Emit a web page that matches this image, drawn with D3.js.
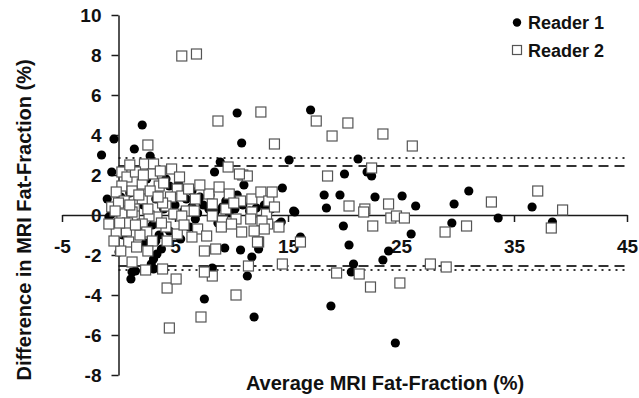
<!DOCTYPE html>
<html>
<head>
<meta charset="utf-8">
<script src="https://cdn.jsdelivr.net/npm/d3@7"></script>
<style>
  body { margin: 0; background: #fff; }
  svg { display: block; font-family: "Liberation Sans", Arial, sans-serif; }
</style>
</head>
<body>
<div id="chart"></div>
<script>
// Bland-Altman style difference plot, two readers
const xTicks = [-5, 5, 15, 25, 35, 45];
const yTicks = [-8, -6, -4, -2, 0, 2, 4, 6, 8, 10];
const seriesNames = ['Reader 1', 'Reader 2'];

// limits of agreement [reader 1 dashed, reader 2 dotted]
const upperLimits = [2.45, 2.85];
const lowerLimits = [-2.55, -2.75];

// [average, difference]
const reader1 = [
  [-1.5, 3.0], [-0.4, 3.8], [2.1, 4.5], [1.4, 3.3], [2.8, 2.95], [-0.6, 2.15],
  [10.5, 5.1], [10.9, 3.6], [17.0, 5.25], [15.1, 2.75], [21.2, 2.8], [9.0, 2.65],
  [8.5, 2.15], [20.0, 2.05], [22.0, 2.15], [22.4, 1.95], [11.1, 1.5], [14.5, 1.35],
  [18.2, 1.0], [19.6, 1.0], [22.7, 0.9], [25.1, 0.95], [18.4, 0.35], [26.3, 0.45],
  [15.6, 0.15], [29.7, 0.55], [31.0, 1.2], [29.5, -0.4], [19.9, -0.55], [20.4, -1.5],
  [25.9, -0.95], [23.9, -1.8], [23.4, -2.25], [16.1, -1.1], [20.8, -2.45], [20.6, -2.85],
  [18.8, -4.55], [24.5, -6.4], [12.0, -5.1], [11.4, -3.05], [7.6, -4.2], [10.8, -1.75],
  [11.8, -2.1], [9.4, -1.65], [8.3, -2.65], [14.4, -0.35], [33.6, -0.15], [36.6, 0.4],
  [38.4, -0.35], [4.5, 1.45], [6.5, 1.2], [-1.0, 0.8], [3.3, 0.8], [-0.85, -0.1],
  [-0.65, 0.05], [3.8, -1.7], [3.4, -1.95], [3.1, -2.2], [2.9, -2.45], [0.05, -1.85],
  [1.5, -2.8], [1.1, -3.2], [3.3, -1.3], [12.4, -1.7], [11.5, -2.55], [14.2, -0.45],
  [15.5, 0.2], [1.2, -2.85], [3.1, -2.7],
  [4.0, 0.3], [5.0, 0.5], [5.8, 0.2], [6.5, 0.4], [7.0, 0.1], [7.5, 0.5], [8.0, 0.3],
  [8.6, 0.2], [9.2, 0.4], [9.8, 0.1], [10.3, 0.3], [11.0, 0.5], [11.6, 0.2], [12.2, 0.35],
  [12.9, 0.5], [13.5, 0.3], [6.0, 0.8], [7.2, 0.9], [8.1, 1.0], [9.5, 0.7], [10.5, 1.0],
  [3.0, -0.5], [4.5, -0.8], [5.5, -1.2], [6.3, -0.6], [2.2, 0.5], [1.0, -0.3], [0.2, 0.9],
  [5.3, 1.6], [2.5, 1.8], [1.0, 1.1], [4.2, 1.8], [3.6, -1.0], [2.4, -1.4], [4.8, 0.0],
  [6.8, -0.2], [8.8, -0.4], [0.4, -1.0]
];

const reader2 = [
  [5.6, 7.95], [6.9, 8.05], [8.8, 4.7], [12.6, 5.15], [13.8, 3.55], [17.5, 4.7],
  [18.9, 3.95], [20.3, 4.6], [23.4, 4.05], [26.0, 3.45], [9.7, 2.4], [11.0, 2.0],
  [11.4, 1.95], [18.5, 1.95], [22.4, 2.35], [2.6, 3.5], [20.4, 0.45], [21.8, 0.3],
  [21.7, 0.15], [23.9, 0.55], [24.1, -0.15], [24.6, -0.05], [25.3, -0.15], [22.5, -0.55],
  [28.9, -0.85], [30.8, -0.55], [16.1, -1.35], [19.3, -2.9], [21.3, -2.95], [22.3, -3.6],
  [24.9, -3.4], [27.6, -2.45], [29.0, -2.6], [14.5, -2.45], [10.4, -4.0], [7.3, -5.1],
  [12.4, -1.35], [11.5, -2.55], [8.3, -3.05], [7.6, -2.85], [33.0, 0.65], [37.1, 1.2],
  [39.3, 0.25], [38.3, -0.65], [4.5, -5.65], [4.3, -3.65], [5.1, -3.2], [3.9, -2.7],
  [2.4, -2.75], [13.2, -0.45],
  [2.3, 2.55], [3.1, 2.55], [4.7, 2.3], [5.4, 1.9], [0.3, 2.15], [0.75, 1.9], [1.5, 2.15],
  [3.0, 2.05], [2.1, 1.55], [0.3, 1.45], [1.2, 1.2], [3.6, 1.45], [5.2, 1.3], [-0.2, 1.15],
  [0.5, 0.7], [2.1, 0.8], [4.6, 0.9], [5.6, 0.95], [-0.6, 0.4], [1.4, 0.3], [4.2, 0.45],
  [3.4, -0.1], [2.7, -0.05], [1.4, -0.05], [0.5, -0.05], [4.9, 0.05], [6.0, 0.2], [6.2, 1.3],
  [0.3, 0.05], [1.2, 0.15], [2.1, -0.45], [-0.2, -0.85], [0.7, -0.8], [2.5, -0.85],
  [0.9, -1.35], [1.6, -1.6], [0.2, -1.8], [4.2, -0.6], [5.2, -0.95], [5.6, -0.05],
  [4.3, -1.3], [1.2, -2.35], [-0.85, -0.45], [-0.4, -1.3], [8.0, 1.05], [8.9, 1.4],
  [9.8, 1.05], [8.3, 0.55], [10.8, 0.7], [11.8, 0.8], [12.6, 1.15], [13.3, 0.7], [13.6, 1.15],
  [6.7, 0.2], [11.8, 0.15], [13.1, 0.05], [8.3, -0.05], [9.2, -0.3], [10.4, -0.2],
  [11.7, -0.2], [12.7, -0.3], [10.7, 2.05], [7.0, -0.7], [7.8, -1.05], [9.1, -0.6],
  [10.0, -0.45], [10.9, -0.85], [12.9, -0.7], [14.2, -0.6], [7.6, -1.8], [8.6, -1.7],
  [12.3, -1.35], [1.8, 1.0], [2.8, 1.2], [3.9, 0.6], [0.0, 0.6], [1.0, 0.5], [2.6, 0.3],
  [3.5, 0.9], [0.8, -0.4], [1.9, -1.0], [3.0, -1.3], [0.1, -0.4], [1.5, -0.5], [3.8, -0.4],
  [5.8, -0.5], [6.5, -1.1], [2.6, -1.8], [-0.3, 0.2], [2.2, 2.0], [3.7, 2.2], [1.0, 2.5],
  [4.0, 1.6], [6.8, 0.8], [7.2, 1.5], [9.5, 0.3], [10.2, 0.6], [12.0, -0.8], [13.8, 0.4]
];

const width = 639, height = 398;
const svg = d3.select('#chart').append('svg')
    .attr('width', width)
    .attr('height', height);

const x = d3.scaleLinear().domain([-5, 45]).range([62, 627]);
const y = d3.scaleLinear().domain([-8, 10]).range([375, 15]);

const axisColor = '#1a1a1a';
const fontFamily = '"Liberation Sans", Arial, sans-serif';

// limit lines
const limitLines = [
  {v: upperLimits[0], dash: '10,6', w: 1.8},
  {v: upperLimits[1], dash: '2,5', w: 2.2},
  {v: lowerLimits[0], dash: '10,6', w: 1.8},
  {v: lowerLimits[1], dash: '2,5', w: 2.2}
];
svg.append('g')
    .selectAll('line')
    .data(limitLines)
    .enter()
    .append('line')
    .attr('x1', x(0))
    .attr('x2', x(45))
    .attr('y1', d => y(d.v))
    .attr('y2', d => y(d.v))
    .attr('stroke', '#333')
    .attr('stroke-width', d => d.w)
    .attr('stroke-dasharray', d => d.dash);

function styleAxis(g) {
  g.select('.domain').attr('stroke', axisColor).attr('stroke-width', 1.5);
  g.selectAll('.tick line').attr('stroke', axisColor).attr('stroke-width', 1.5);
  g.selectAll('.tick text')
      .attr('font-size', '19px')
      .attr('font-weight', 'bold')
      .attr('font-family', fontFamily)
      .attr('fill', '#111');
}

// y axis at x = 0
const yAxis = d3.axisLeft(y)
    .tickValues(yTicks)
    .tickFormat(d => String(d))
    .tickSize(7)
    .tickSizeOuter(0)
    .tickPadding(10);
svg.append('g')
    .attr('transform', 'translate(' + x(0) + ',0)')
    .call(yAxis)
    .call(styleAxis);

// x axis at y = 0
const xAxis = d3.axisBottom(x)
    .tickValues(xTicks)
    .tickFormat(d => String(d))
    .tickSize(7)
    .tickSizeOuter(0)
    .tickPadding(18);
svg.append('g')
    .attr('transform', 'translate(0,' + y(0) + ')')
    .call(xAxis)
    .call(styleAxis);

// reader 1: filled circles
svg.append('g')
    .selectAll('circle')
    .data(reader1)
    .enter()
    .append('circle')
    .attr('cx', d => x(d[0]))
    .attr('cy', d => y(d[1]))
    .attr('r', 4.6)
    .attr('fill', '#000');

// reader 2: open squares
const sq = 10;
svg.append('g')
    .selectAll('rect')
    .data(reader2)
    .enter()
    .append('rect')
    .attr('x', d => x(d[0]) - sq / 2)
    .attr('y', d => y(d[1]) - sq / 2)
    .attr('width', sq)
    .attr('height', sq)
    .attr('fill', '#fff')
    .attr('stroke', '#555')
    .attr('stroke-width', 1.2);

// axis titles
svg.append('text')
    .attr('x', 385)
    .attr('y', 390)
    .attr('text-anchor', 'middle')
    .attr('font-size', '20px')
    .attr('font-weight', 'bold')
    .attr('fill', '#111')
    .text('Average MRI Fat-Fraction (%)');

svg.append('text')
    .attr('transform', 'translate(31,220) rotate(-90)')
    .attr('text-anchor', 'middle')
    .attr('font-size', '20px')
    .attr('font-weight', 'bold')
    .attr('fill', '#111')
    .text('Difference in MRI Fat-Fraction (%)');

// legend
const legend = svg.append('g').attr('transform', 'translate(517,0)');
legend.append('circle')
    .attr('cx', 0).attr('cy', 22.5).attr('r', 4.2).attr('fill', '#000');
legend.append('rect')
    .attr('x', -4.5).attr('y', 45.5).attr('width', 9).attr('height', 9)
    .attr('fill', '#fff').attr('stroke', '#555').attr('stroke-width', 1.2);
legend.selectAll('text')
    .data(seriesNames)
    .enter()
    .append('text')
    .attr('x', 11)
    .attr('y', (d, i) => 29 + i * 28)
    .attr('font-size', '18px')
    .attr('font-weight', 'bold')
    .attr('fill', '#111')
    .text(d => d);
</script>
</body>
</html>
